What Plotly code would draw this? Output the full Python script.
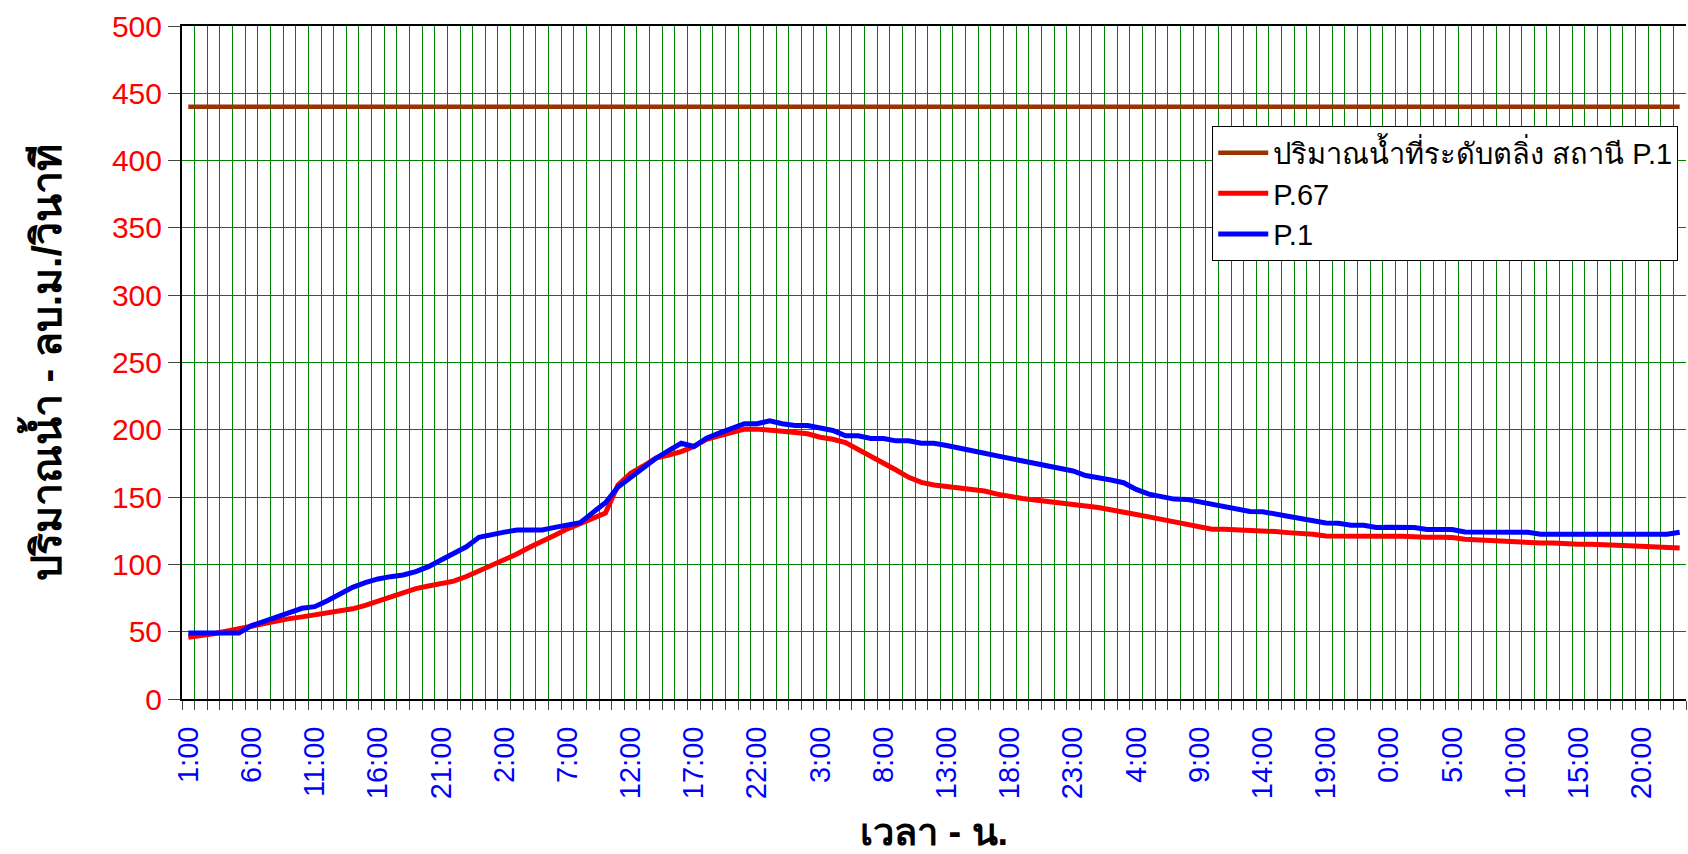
import plotly.graph_objects as go

# hourly categories: day 1 from 1:00, then full days
times = (
    ["1:00", "2:00", "3:00", "4:00", "5:00", "6:00", "7:00", "8:00", "9:00", "10:00", "11:00", "12:00",
     "13:00", "14:00", "15:00", "16:00", "17:00", "18:00", "19:00", "20:00", "21:00", "22:00", "23:00"]
    + ["0:00", "1:00", "2:00", "3:00", "4:00", "5:00", "6:00", "7:00", "8:00", "9:00", "10:00", "11:00",
       "12:00", "13:00", "14:00", "15:00", "16:00", "17:00", "18:00", "19:00", "20:00", "21:00", "22:00", "23:00"] * 4
)

tick_labels = ["1:00", "6:00", "11:00", "16:00", "21:00", "2:00", "7:00", "12:00", "17:00", "22:00",
               "3:00", "8:00", "13:00", "18:00", "23:00", "4:00", "9:00", "14:00", "19:00", "0:00",
               "5:00", "10:00", "15:00", "20:00"]
tick_index = [0, 5, 10, 15, 20, 25, 30, 35, 40, 45, 50, 55, 60, 65, 70, 75, 80, 85, 90, 95,
              100, 105, 110, 115]

bank_level = 440

p67 = [45.8, 46.8, 48.5, 50.3, 51.8, 54, 56, 58, 59.7, 61, 62.5, 64, 65.2, 67, 69.5, 72.5, 76, 79.3,
       82, 84, 85.8, 87.6, 91, 95, 99, 103.5, 107.7, 112.7, 116.8, 121.7, 126.4, 130.2, 134.2, 138.1,
       159, 167.7, 173.1, 178.9, 181.3, 183.8, 187.6, 193, 195.5, 198, 200.5, 200.5, 199.3, 199, 198,
       197, 194.5, 193, 190.5, 185.6, 180.6, 175.6, 170.1, 164.7, 160.9, 159, 157.7, 156.7, 155.7,
       154.5, 152.2, 150.2, 149, 147.8, 146.5, 145.3, 144.5, 143.4, 142.3, 140.3, 138.3, 137.1, 135.3,
       133.3, 131.3, 129.4, 127.4, 126.1, 126.1, 125.9, 125.4, 125.1, 124.4, 123.6, 123.4, 122.4, 121.1,
       120.9, 120.9, 120.9, 120.9, 120.9, 120.9, 120.1, 120.1, 120.1, 119.9, 118.7, 118.2, 118, 117.2,
       116.9, 115.9, 115.9, 115.9, 115.2, 115, 115, 115, 114.2, 113.9, 113.4, 112.9, 112.2, 112.2]

p1 = [49, 49, 49, 49, 49, 54.5, 57.4, 60.4, 64.1, 67.4, 68.6, 73, 78, 83, 86.4, 89.2, 90.9, 92.1, 94.6,
      98.3, 103.3, 108.2, 113.1, 120.1, 122.5, 124, 125.5, 125.5, 125.6, 127.5, 129.2, 131, 138.5, 145.8,
      157.5, 164.7, 171.4, 178.9, 184.6, 190, 187.6, 193.8, 197.5, 201.2, 204.5, 204.5, 206.7, 204.5,
      203.2, 203.2, 201.2, 199.5, 195.5, 195.5, 193.5, 193.5, 191.8, 191.8, 190, 190, 188.3, 186.1,
      184.3, 182.6, 180.6, 178.6, 176.6, 174.6, 172.9, 170.9, 169.4, 166, 163.9, 162.7, 160.7, 155.7,
      152.2, 150.2, 148.5, 148.3, 146.5, 144.5, 142.8, 140.8, 139.3, 139.1, 137.8, 135.8, 134.1, 132.3,
      130.8, 130.6, 129.1, 129.1, 127.4, 127.6, 127.6, 127.4, 125.9, 125.9, 125.9, 124.1, 123.9, 123.9,
      123.9, 123.9, 123.9, 122.4, 122.4, 122.4, 122.4, 122.4, 122.4, 122.4, 122.4, 122.4, 122.4, 122.4,
      123.9]

idx = list(range(len(times)))
bank = [bank_level] * len(times)

FONT = "Arial, Liberation Sans, Tahoma, sans-serif"

fig = go.Figure()
fig.add_trace(go.Scatter(x=idx, y=bank, mode="lines", name="ปริมาณน้ำที่ระดับตลิ่ง สถานี P.1",
                         line=dict(color="#993300", width=4.5), legendgroup="a",
                         customdata=times, hovertemplate="%{customdata}: %{y}"))
fig.add_trace(go.Scatter(x=idx, y=p67, mode="lines", name="P.67",
                         line=dict(color="#FF0000", width=5), legendgroup="b",
                         customdata=times, hovertemplate="%{customdata}: %{y}"))
fig.add_trace(go.Scatter(x=idx, y=p1, mode="lines", name="P.1",
                         line=dict(color="#0000FF", width=5), legendgroup="c",
                         customdata=times, hovertemplate="%{customdata}: %{y}"))

fig.update_layout(
    width=1688, height=854,
    margin=dict(l=182, r=2, t=26, b=155),
    paper_bgcolor="white", plot_bgcolor="white",
    font=dict(family=FONT, color="black"),
    showlegend=True,
    legend=dict(x=0.685, y=0.851, xanchor="left", yanchor="top",
                bgcolor="white", bordercolor="black", borderwidth=1,
                font=dict(size=29, family=FONT, color="black"),
                itemwidth=50, tracegroupgap=0),
    xaxis=dict(
        range=[-0.5, len(times) - 0.5],
        tickmode="array", tickvals=tick_index, ticktext=tick_labels,
        tickangle=-90, ticks="", ticklabelstandoff=14,
        tickfont=dict(size=29, color="#0000FF", family=FONT),
        showgrid=False, zeroline=False,
        showline=True, linecolor="black", linewidth=2, mirror=True,
        minor=dict(tick0=-0.5, dtick=1, ticks="outside", ticklen=9, tickcolor="#444",
                   showgrid=True, gridcolor="#008000", gridwidth=1),
        title=dict(text="<b>เวลา - น.</b>", font=dict(size=38, family=FONT, color="black"), standoff=20),
    ),
    yaxis=dict(
        range=[0, 500], dtick=50, tick0=0,
        ticks="outside", ticklen=12, tickcolor="#444",
        tickfont=dict(size=30, color="#FF0000", family=FONT),
        showgrid=True, gridcolor="#008000", gridwidth=1, zeroline=False,
        showline=True, linecolor="black", linewidth=2,
        title=dict(text="<b>ปริมาณน้ำ - ลบ.ม./วินาที</b>", font=dict(size=41, family=FONT, color="black"),
                   standoff=38),
    ),
)

fig.write_html("out.html", post_script="document.body.style.margin='0';",
               config={"displayModeBar": False})
